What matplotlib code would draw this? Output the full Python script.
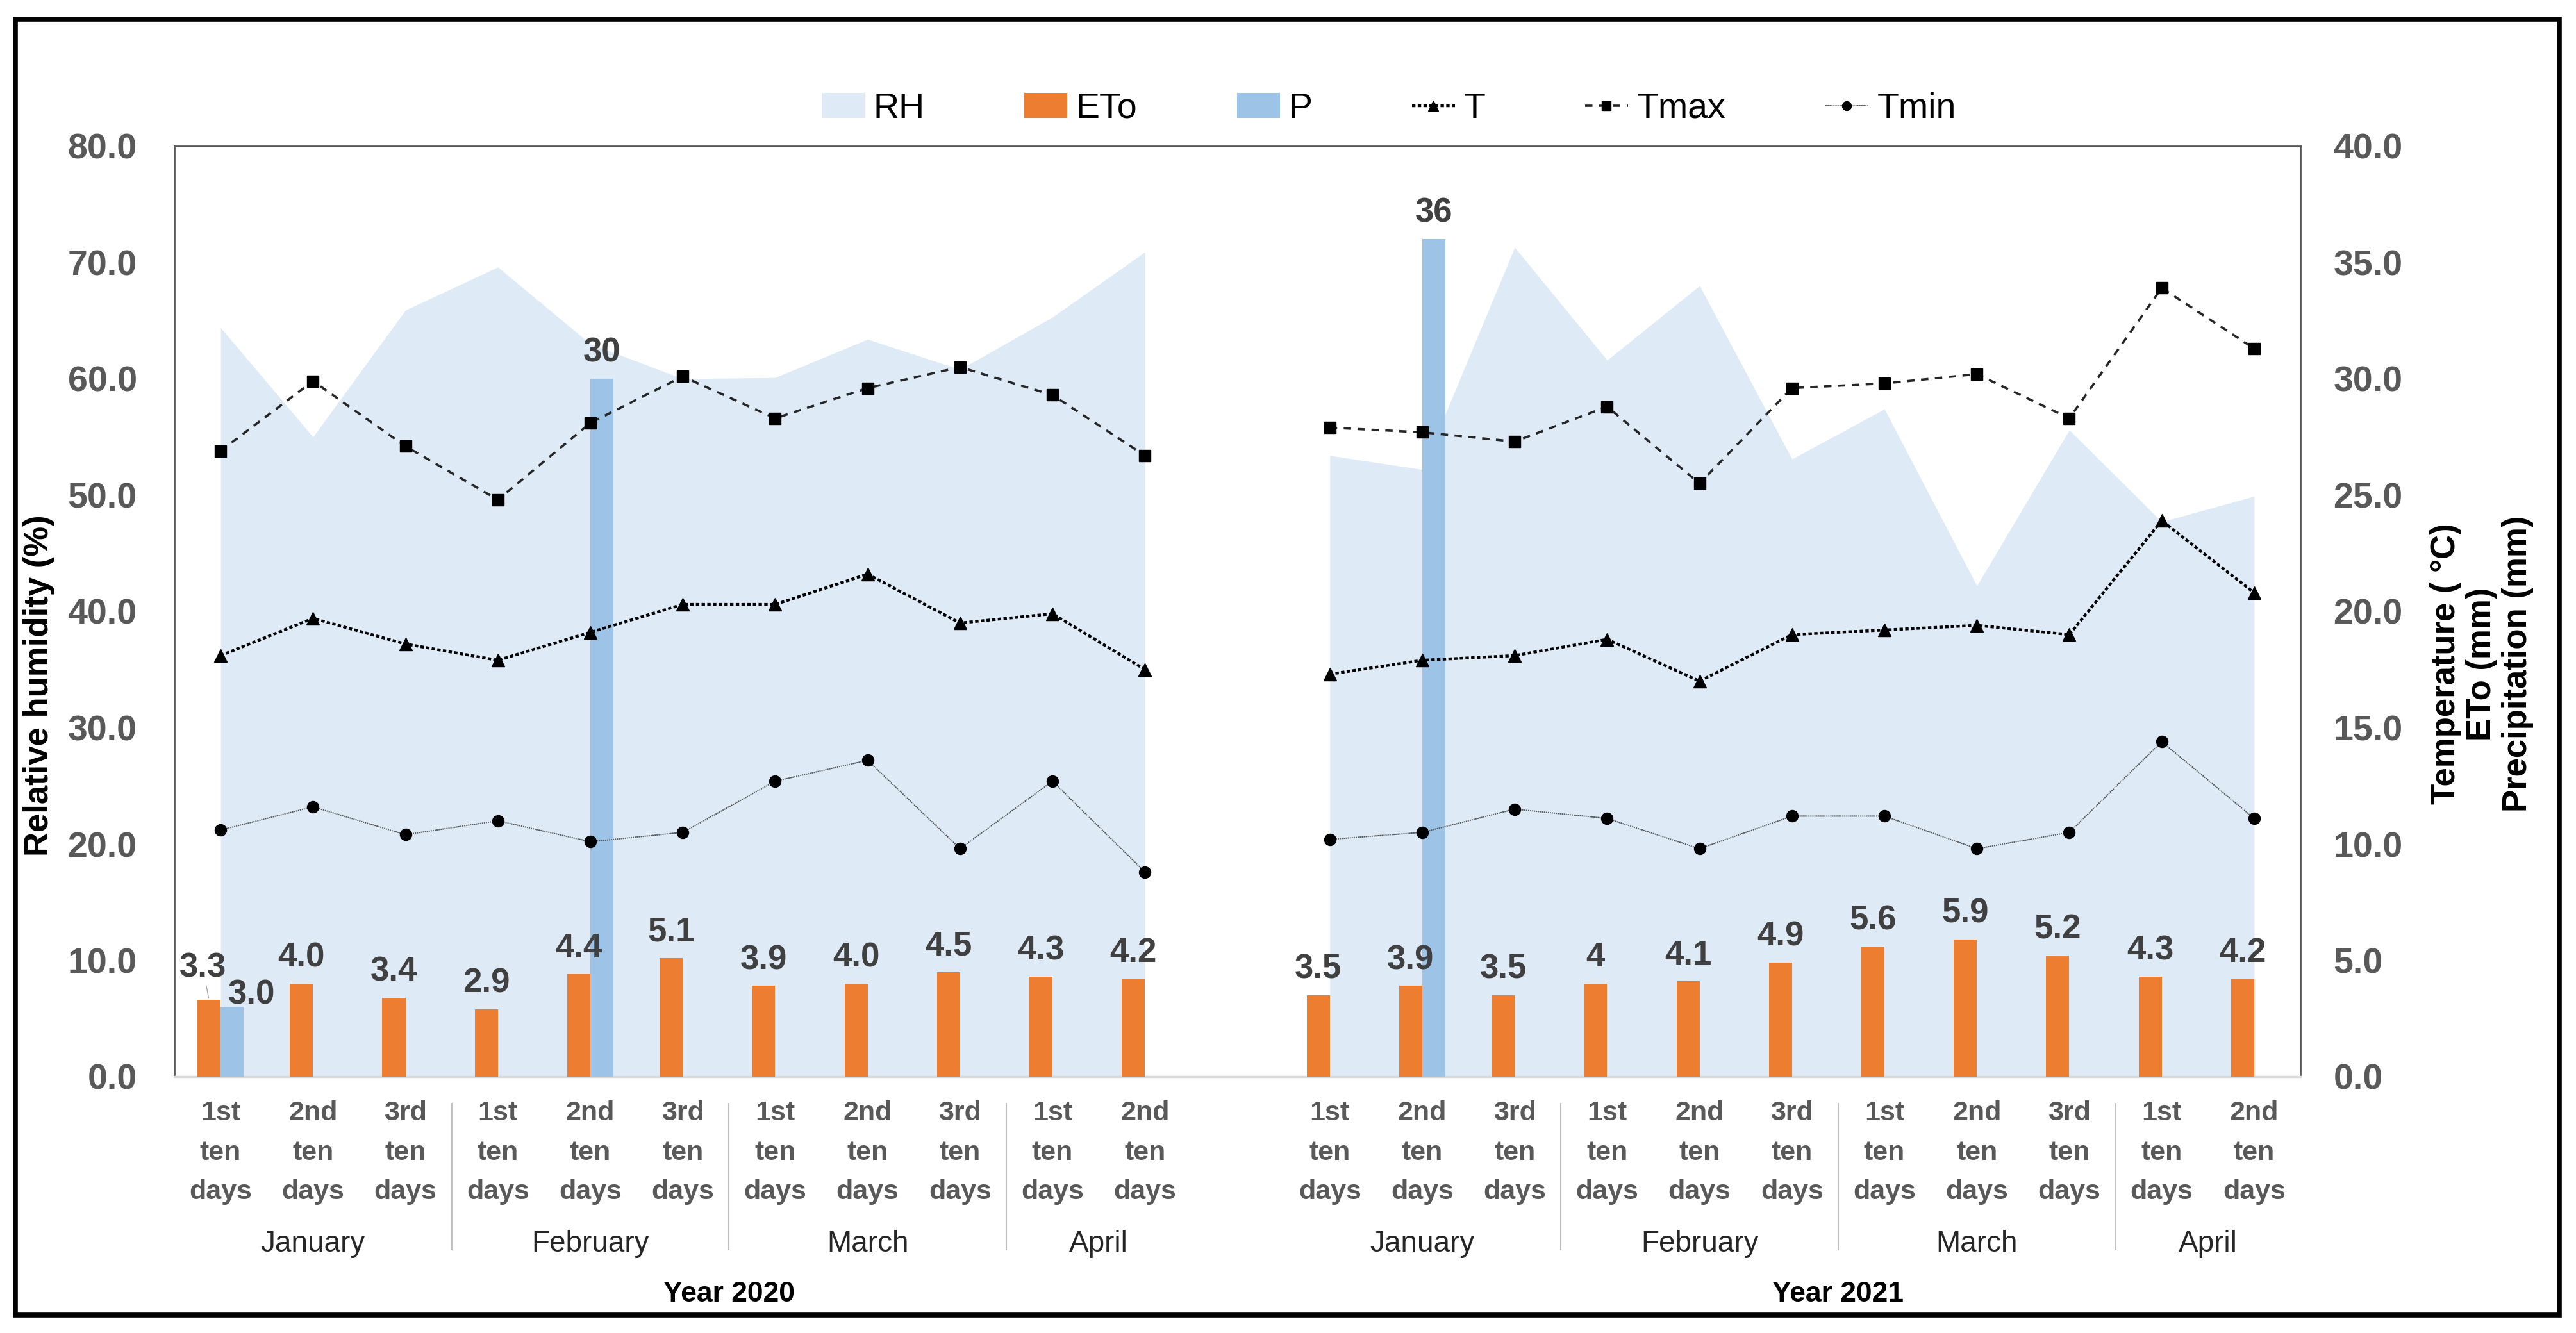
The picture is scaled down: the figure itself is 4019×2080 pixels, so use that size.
import matplotlib
matplotlib.use('Agg')
import matplotlib.pyplot as plt
import matplotlib.transforms as mtransforms
import numpy as np
from matplotlib.lines import Line2D
from matplotlib.patches import Patch, Rectangle

plt.rcParams['font.family'] = ['Liberation Sans', 'DejaVu Sans']

W, H = 4019, 2080

# categories
months = ['January', 'February', 'March', 'April']
month_sizes = [3, 3, 3, 2]
decade_labels = ['1st\nten\ndays', '2nd\nten\ndays', '3rd\nten\ndays']
years = ['Year 2020', 'Year 2021']

# series (ten-day periods, Jan 1st .. Apr 2nd)
rh_2020 = [64.4, 55.0, 65.9, 69.6, 63.0, 60.0, 60.1, 63.4, 60.8, 65.3, 70.9]
rh_2021 = [53.4, 52.2, 71.3, 61.6, 68.0, 53.1, 57.4, 42.2, 55.6, 47.7, 49.9]
eto_2020 = [3.3, 4.0, 3.4, 2.9, 4.4, 5.1, 3.9, 4.0, 4.5, 4.3, 4.2]
eto_2021 = [3.5, 3.9, 3.5, 4.0, 4.1, 4.9, 5.6, 5.9, 5.2, 4.3, 4.2]
p_2020 = [3.0, 0, 0, 0, 30, 0, 0, 0, 0, 0, 0]
p_2021 = [0, 36, 0, 0, 0, 0, 0, 0, 0, 0, 0]
t_2020 = [18.1, 19.7, 18.6, 17.9, 19.1, 20.3, 20.3, 21.6, 19.5, 19.9, 17.5]
t_2021 = [17.3, 17.9, 18.1, 18.8, 17.0, 19.0, 19.2, 19.4, 19.0, 23.9, 20.8]
tmax_2020 = [26.9, 29.9, 27.1, 24.8, 28.1, 30.1, 28.3, 29.6, 30.5, 29.3, 26.7]
tmax_2021 = [27.9, 27.7, 27.3, 28.8, 25.5, 29.6, 29.8, 30.2, 28.3, 33.9, 31.3]
tmin_2020 = [10.6, 11.6, 10.4, 11.0, 10.1, 10.5, 12.7, 13.6, 9.8, 12.7, 8.8]
tmin_2021 = [10.2, 10.5, 11.5, 11.1, 9.8, 11.2, 11.2, 9.8, 10.5, 14.4, 11.1]

C_RH = '#DEEBF7'
C_ETO = '#ED7D31'
C_P = '#9DC3E6'
C_TXT = '#595959'
C_LBL = '#404040'


def join_years(a, b):
    # one blank slot between the two years
    return np.array(list(a) + [np.nan] + list(b), dtype=float)


n_year = len(rh_2020)
x = np.arange(2 * n_year + 1)
rh = join_years(rh_2020, rh_2021)
eto = join_years(eto_2020, eto_2021)
p = join_years(p_2020, p_2021)
t = join_years(t_2020, t_2021)
tmax = join_years(tmax_2020, tmax_2021)
tmin = join_years(tmin_2020, tmin_2021)

tick_labels = []
for size in month_sizes:
    tick_labels += decade_labels[:size]
tick_labels = tick_labels + [''] + tick_labels

fig = plt.figure(figsize=(W / 100, H / 100), dpi=100)
ax = fig.add_axes([272 / W, 1 - 1680 / H, (3589 - 272) / W, (1680 - 228) / H])
ax2 = ax.twinx()

# RH area, one piece per year
for start in (0, n_year + 1):
    seg = slice(start, start + n_year)
    ax.fill_between(x[seg], 0, rh[seg], color=C_RH, lw=0, zorder=1)

bw = 0.25
ax2.bar(x - bw / 2, eto, width=bw, color=C_ETO, zorder=2)
ax2.bar(x + bw / 2, np.where(p > 0, p, np.nan), width=bw, color=C_P, zorder=2)

t_style = dict(color='black', linestyle=(0, (1.2, 0.8)), lw=3.2, marker='^', ms=15)
tmax_style = dict(color='#262626', linestyle=(0, (3.2, 2.8)), lw=2.6, marker='s', ms=13,
                  mfc='black', mec='black')
tmin_style = dict(color='#595959', linestyle=(0, (1, 0.6)), lw=1.4, marker='o', ms=13,
                  mfc='black', mec='black')
ax2.plot(x, t, zorder=3, **t_style)
ax2.plot(x, tmax, zorder=3, **tmax_style)
ax2.plot(x, tmin, zorder=3, **tmin_style)

# data labels
lab_kw = dict(textcoords='offset points', ha='center', va='baseline',
              fontsize=38, fontweight='bold', color=C_LBL, zorder=5)
for i, v in enumerate(eto):
    if np.isnan(v):
        continue
    txt = f'{v:.1f}' if i < n_year else f'{v:g}'
    if i == 0:
        ax2.annotate(txt, (x[i] - bw / 2, v), xytext=(-7, 26),
                     arrowprops=dict(arrowstyle='-', color='#A6A6A6', lw=1,
                                     shrinkA=0, shrinkB=2), **lab_kw)
    else:
        ax2.annotate(txt, (x[i] - bw / 2, v), xytext=(0, 19), **lab_kw)
for i, v in enumerate(p):
    if not v > 0:
        continue
    txt = f'{v:.1f}' if v < 10 else f'{v:.0f}'
    off = (22, 3) if i == 0 else (0, 19)
    ax2.annotate(txt, (x[i] + bw / 2, v), xytext=off, **lab_kw)

ax.set_xlim(-0.5, len(x) - 0.5)
ax.set_ylim(0, 80)
ax2.set_ylim(0, 40)
ax.set_yticks(np.arange(0, 81, 10))
ax2.set_yticks(np.arange(0, 41, 5))
ax.set_yticklabels([f'{v:.1f}' for v in np.arange(0, 81, 10)])
ax2.set_yticklabels([f'{v:.1f}' for v in np.arange(0, 41, 5)])
ax.set_xticks(x)
ax.set_xticklabels(tick_labels, fontsize=31, fontweight='bold', color=C_TXT,
                   linespacing=1.68)
ax.tick_params(axis='x', length=0, pad=27)
ax.tick_params(axis='y', length=0, pad=42, labelsize=40, labelcolor=C_TXT)
ax2.tick_params(axis='y', length=0, pad=37, labelsize=40, labelcolor=C_TXT)
for lbl in ax.get_yticklabels() + ax2.get_yticklabels():
    lbl.set_fontweight('bold')

for side in ('top', 'left', 'right'):
    ax.spines[side].set_color('#595959')
    ax.spines[side].set_linewidth(2)
ax.spines['bottom'].set_color('#D9D9D9')
ax.spines['bottom'].set_linewidth(2.5)
for s in ax2.spines.values():
    s.set_visible(False)

# month / year category levels
trans = mtransforms.blended_transform_factory(ax.transData, ax.transAxes)
for y_i, year in enumerate(years):
    offset = y_i * (n_year + 1)
    start = offset
    for m_i, (month, size) in enumerate(zip(months, month_sizes)):
        ax.text(start + (size - 1) / 2, -0.188, month, transform=trans,
                ha='center', va='baseline', fontsize=33, color='#262626')
        if m_i > 0:
            ax.plot([start - 0.5, start - 0.5], [-0.029, -0.186], transform=trans,
                    color='#BFBFBF', lw=1.5, clip_on=False)
        start += size
    ax.text(offset + n_year / 2, -0.2417, year, transform=trans, ha='center',
            va='baseline', fontsize=32, fontweight='bold', color='black')

fig.text(61 / W, 1 - 1070 / H, 'Relative humidity (%)', rotation=90, ha='center',
         va='center', fontsize=38, fontweight='bold')
fig.text(3872 / W, 1 - 1036 / H, 'Temperature ( °C)\nETo (mm)\nPrecipitation (mm)',
         rotation=90, ha='center', va='center', multialignment='center',
         fontsize=38, fontweight='bold', linespacing=1.16)

handles = [
    Patch(facecolor=C_RH, label='RH'),
    Patch(facecolor=C_ETO, label='ETo'),
    Patch(facecolor=C_P, label='P'),
    Line2D([], [], **{**t_style, 'ms': 11}, label='T'),
    Line2D([], [], **{**tmax_style, 'ms': 10}, label='Tmax'),
    Line2D([], [], **{**tmin_style, 'ms': 10}, label='Tmin'),
]
fig.legend(handles=handles, loc='center', bbox_to_anchor=(2167 / W, 1 - 170 / H),
           ncol=6, frameon=False, fontsize=40, handlelength=1.2, handleheight=0.68,
           handletextpad=0.25, columnspacing=2.8, borderpad=0)

fig.patches.append(Rectangle((24 / W, 1 - 2052 / H), (3993 - 24) / W, (2052 - 30) / H,
                             transform=fig.transFigure, fill=False, lw=5.5,
                             ec='black', zorder=10))

fig.savefig('out.png', dpi=100, facecolor='white')
